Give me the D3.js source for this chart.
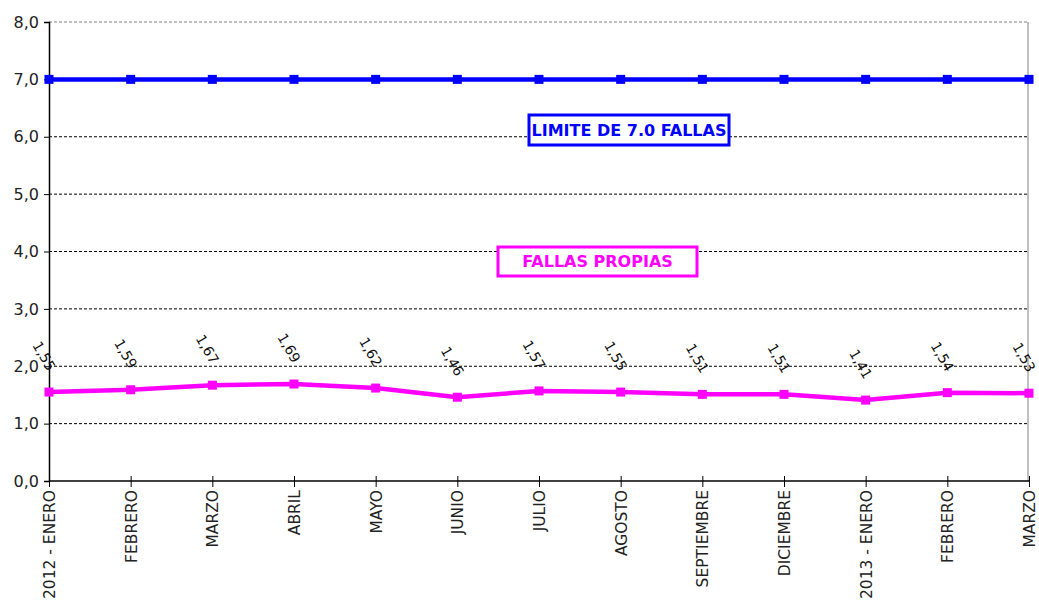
<!DOCTYPE html>
<html>
<head>
<meta charset="utf-8">
<script src="https://cdn.jsdelivr.net/npm/d3@7"></script>
<style>
  body { margin: 0; background: #fff; }
  svg { font-family: "DejaVu Sans", sans-serif; }
</style>
</head>
<body>
<svg id="chart" width="1039" height="604"></svg>
<script>
var months = ['2012 - ENERO', 'FEBRERO', 'MARZO', 'ABRIL', 'MAYO', 'JUNIO', 'JULIO',
  'AGOSTO', 'SEPTIEMBRE', 'DICIEMBRE', '2013 - ENERO', 'FEBRERO', 'MARZO'];
var fallasPropias = [1.55, 1.59, 1.67, 1.69, 1.62, 1.46, 1.57, 1.55, 1.51, 1.51, 1.41, 1.54, 1.53];
var limite = [7, 7, 7, 7, 7, 7, 7, 7, 7, 7, 7, 7, 7];
var yTicks = [0, 1, 2, 3, 4, 5, 6, 7, 8];

var svg = d3.select('#chart');
var plotLeft = 49, plotRight = 1029, plotTop = 22, plotBottom = 481;

var x = d3.scalePoint()
  .domain(d3.range(months.length))
  .range([plotLeft, plotRight]);
var y = d3.scaleLinear()
  .domain([0, 8])
  .range([plotBottom, plotTop]);

var fmt = function(v) { return d3.format('.1f')(v).replace('.', ','); };

// gridlines
svg.append('g')
  .selectAll('line')
  .data(yTicks.filter(d => d > 0))
  .enter().append('line')
  .attr('x1', plotLeft).attr('x2', plotRight)
  .attr('y1', d => y(d)).attr('y2', d => y(d))
  .attr('stroke', d => d === 8 ? '#808080' : '#000')
  .attr('stroke-width', 1)
  .attr('stroke-dasharray', '3,2');

// right border
svg.append('line')
  .attr('x1', plotRight - 1).attr('x2', plotRight - 1)
  .attr('y1', plotTop).attr('y2', plotBottom)
  .attr('stroke', '#808080');

// y axis
var yAxis = svg.append('g')
  .attr('transform', `translate(${plotLeft},0)`)
  .call(d3.axisLeft(y).tickValues(yTicks).tickFormat(fmt).tickSize(5).tickPadding(5));
yAxis.select('.domain').attr('stroke', '#000').attr('stroke-width', 1.5);
yAxis.selectAll('.tick line').attr('stroke', '#000');
yAxis.selectAll('text').attr('font-size', 16).attr('fill', '#222').attr('font-family', '"DejaVu Sans", sans-serif');

// x axis
var xAxis = svg.append('g')
  .attr('transform', `translate(0,${plotBottom})`)
  .call(d3.axisBottom(x).tickSize(6).tickSizeOuter(0).tickFormat(i => months[i]));
xAxis.select('.domain').attr('stroke', '#000').attr('stroke-width', 1.5).attr('d', `M${plotLeft},0H${plotRight}`);
xAxis.selectAll('.tick line').attr('stroke', '#000').attr('y1', -5).attr('y2', 6);
xAxis.selectAll('text')
  .attr('font-size', 15.5)
  .attr('fill', '#222')
  .attr('font-family', '"DejaVu Sans", sans-serif')
  .attr('text-anchor', 'end')
  .attr('transform', 'rotate(-90)')
  .attr('x', -9)
  .attr('y', 0)
  .attr('dy', '0.35em');

var line = d3.line()
  .x((d, i) => x(i))
  .y(d => y(d));

function drawSeries(data, color) {
  svg.append('path')
    .datum(data)
    .attr('d', line)
    .attr('fill', 'none')
    .attr('stroke', color)
    .attr('stroke-width', 4.5);
  svg.append('g')
    .selectAll('rect')
    .data(data)
    .enter().append('rect')
    .attr('x', (d, i) => x(i) - 4.5)
    .attr('y', d => y(d) - 4.5)
    .attr('width', 9)
    .attr('height', 9)
    .attr('fill', color);
}

drawSeries(limite, '#0000ff');
drawSeries(fallasPropias, '#ff00ff');

// data labels
svg.append('g')
  .selectAll('text')
  .data(fallasPropias)
  .enter().append('text')
  .attr('transform', (d, i) => `translate(${x(i) - 5},${y(d) - 36}) rotate(60)`)
  .attr('text-anchor', 'middle')
  .attr('dy', '0.35em')
  .attr('font-size', 14)
  .attr('fill', '#111')
  .text(d => d3.format('.2f')(d).replace('.', ','));

// legend boxes
function box(x0, y0, w, h, color, label) {
  svg.append('rect')
    .attr('x', x0).attr('y', y0).attr('width', w).attr('height', h)
    .attr('fill', '#fff')
    .attr('stroke', color)
    .attr('stroke-width', 3);
  svg.append('text')
    .attr('x', x0 + w / 2).attr('y', y0 + h / 2)
    .attr('dy', '0.35em')
    .attr('text-anchor', 'middle')
    .attr('font-size', 16)
    .attr('font-weight', 'bold')
    .attr('fill', color)
    .text(label);
}
box(529, 115, 200, 30, '#0000ff', 'LIMITE DE 7.0 FALLAS');
box(498, 247, 199, 29, '#ff00ff', 'FALLAS PROPIAS');
</script>
</body>
</html>
